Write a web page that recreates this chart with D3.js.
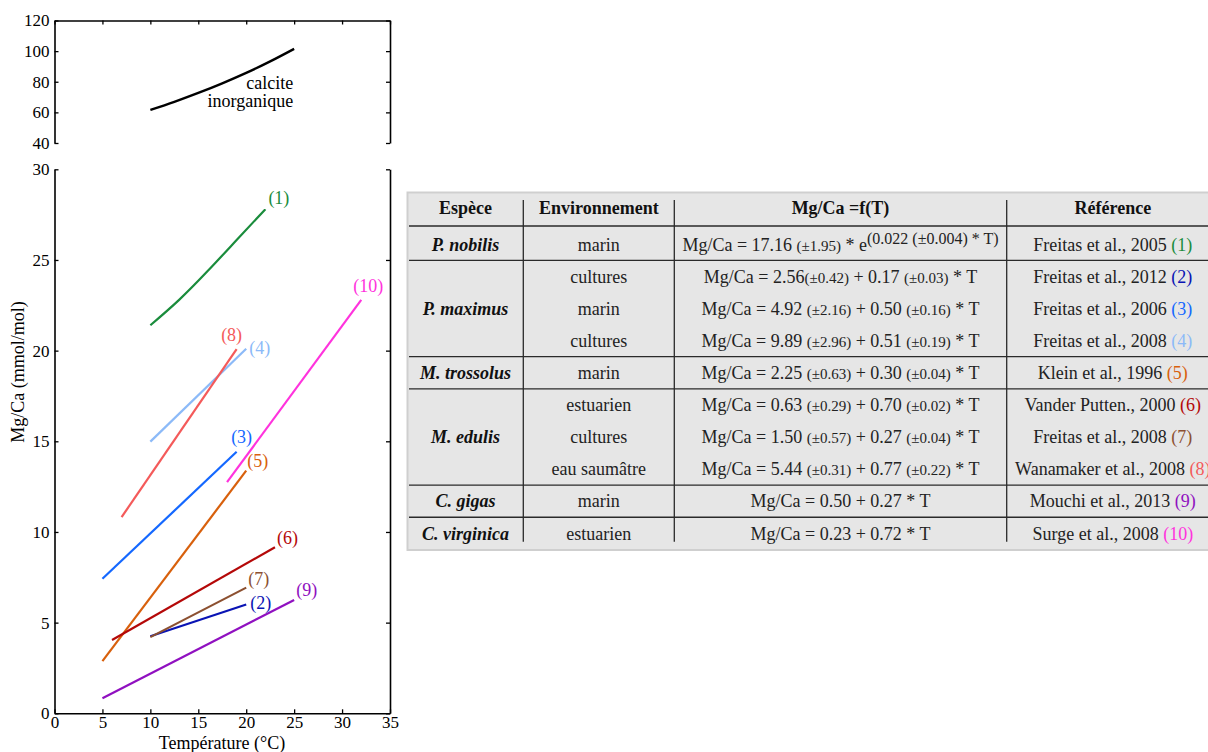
<!DOCTYPE html>
<html><head><meta charset="utf-8">
<script src="https://cdn.jsdelivr.net/npm/d3@7"></script>
<style>
html,body{margin:0;padding:0;background:#fff;}
svg{display:block;font-family:"Liberation Serif","DejaVu Serif",serif;}
</style></head>
<body><svg id="c" width="1208" height="752"></svg>
<script>
// ---------- DATA ----------
const xTicks = [0,5,10,15,20,25,30,35];
const topYTicks = [40,60,80,100,120];
const botYTicks = [0,5,10,15,20,25,30];

const calciteT = [10,12.5,15,17.5,20,22.5,25];
const calciteV = [61.6,66.9,72.7,79.0,85.8,93.3,101.5];

const seriesNames = ["(1)","(2)","(3)","(4)","(5)","(6)","(7)","(8)","(9)","(10)"];
const seriesT = [[10,13,16,19,22],[10,20],[5,19],[10,20],[5,20],[6,23],[10,20],[7,19],[5,25],[18,32]];
const seriesV = [[21.4,22.8,24.4,26.1,27.8],[4.25,6.0],[7.42,14.42],[14.98,20.1],[2.88,13.38],[4.04,9.16],[4.2,6.93],[10.82,20.08],[0.83,6.25],[12.75,22.8]];
const seriesColors = ["#1a8c3c","#0a14b4","#1468ff","#8cbaf8","#d8600c","#b40808","#8c5030","#f45a5a","#9010c0","#ff33dd"];

const headers = ["Espèce","Environnement","Mg/Ca =f(T)","Référence"];
const speciesNames = ["P. nobilis","P. maximus","M. trossolus","M. edulis","C. gigas","C. virginica"];
const speciesRows = [1,3,1,3,1,1];
const environments = ["marin","cultures","marin","cultures","marin","estuarien","cultures","eau saumâtre","marin","estuarien"];
const equations = [
  "Mg/Ca = 17.16 [(±1.95)] * e^(0.022 (±0.004) * T)",
  "Mg/Ca = 2.56[(±0.42)] + 0.17 [(±0.03)] * T",
  "Mg/Ca = 4.92 [(±2.16)] + 0.50 [(±0.16)] * T",
  "Mg/Ca = 9.89 [(±2.96)] + 0.51 [(±0.19)] * T",
  "Mg/Ca = 2.25 [(±0.63)] + 0.30 [(±0.04)] * T",
  "Mg/Ca = 0.63 [(±0.29)] + 0.70 [(±0.02)] * T",
  "Mg/Ca = 1.50 [(±0.57)] + 0.27 [(±0.04)] * T",
  "Mg/Ca = 5.44 [(±0.31)] + 0.77 [(±0.22)] * T",
  "Mg/Ca = 0.50 + 0.27 * T",
  "Mg/Ca = 0.23 + 0.72 * T"
];
const references = ["Freitas et al., 2005","Freitas et al., 2012","Freitas et al., 2006","Freitas et al., 2008","Klein et al., 1996","Vander Putten., 2000","Freitas et al., 2008","Wanamaker et al., 2008","Mouchi et al., 2013","Surge et al., 2008"];

// ---------- CHART ----------
const svg = d3.select("#c");
const FS = 18, TFS = 17;
const x = d3.scaleLinear().domain([0,35]).range([54.5,390]);
const yTop = d3.scaleLinear().domain([40,120]).range([143,20.5]);
const yBot = d3.scaleLinear().domain([0,30]).range([713.3,169.3]);

function styleAxis(g){
  g.selectAll("path.domain").attr("stroke","#000").attr("stroke-width",1.6);
  g.selectAll(".tick line").attr("stroke","#000").attr("stroke-width",1.3);
  g.selectAll("text").attr("font-family","Liberation Serif, serif").attr("font-size",TFS).attr("fill","#000");
}
// top panel
svg.append("g").attr("transform",`translate(${x(0)},0)`)
  .call(d3.axisLeft(yTop).tickValues(topYTicks).tickSizeInner(-4).tickSizeOuter(0).tickPadding(5)).call(styleAxis);
svg.append("g").attr("transform",`translate(${x(35)},0)`)
  .call(d3.axisRight(yTop).tickValues(topYTicks).tickSizeInner(-4).tickSizeOuter(0).tickFormat("")).call(styleAxis);
svg.append("g").attr("transform",`translate(0,${yTop(120)})`)
  .call(d3.axisTop(x).tickValues(xTicks).tickSizeInner(-4).tickSizeOuter(0).tickFormat("")).call(styleAxis);
// bottom panel
svg.append("g").attr("transform",`translate(${x(0)},0)`)
  .call(d3.axisLeft(yBot).tickValues(botYTicks).tickSizeInner(-4).tickSizeOuter(0).tickPadding(5)).call(styleAxis);
svg.append("g").attr("transform",`translate(${x(35)},0)`)
  .call(d3.axisRight(yBot).tickValues(botYTicks).tickSizeInner(-4).tickSizeOuter(0).tickFormat("")).call(styleAxis);
svg.append("g").attr("transform",`translate(0,${yBot(0)})`)
  .call(d3.axisBottom(x).tickValues(xTicks).tickSizeInner(-4).tickSizeOuter(0).tickPadding(3)).call(styleAxis);

// calcite curve
const calcData = calciteT.map((t,i)=>[t,calciteV[i]]);
svg.append("path").datum(calcData)
  .attr("d", d3.line().x(d=>x(d[0])).y(d=>yTop(d[1])).curve(d3.curveNatural))
  .attr("fill","none").attr("stroke","#000").attr("stroke-width",2.4);
svg.append("text").attr("x",x(25)-1).attr("y",89).attr("text-anchor","end")
  .attr("font-size",FS).text("calcite");
svg.append("text").attr("x",x(25)-1).attr("y",107).attr("text-anchor","end")
  .attr("font-size",FS).text("inorganique");

// series lines
const line = d3.line().x(d=>x(d[0])).y(d=>yBot(d[1])).curve(d3.curveNatural);
const labelOffsets = [[3,-5,"start"],[4,4,"start"],[5,-9,"middle"],[3,5,"start"],[1,-4,"start"],[2,-3,"start"],[2,-3,"start"],[-5,-8,"middle"],[2,-4,"start"],[7,-8,"middle"]];
seriesNames.forEach((name,i)=>{
  const pts = seriesT[i].map((t,j)=>[t,seriesV[i][j]]);
  svg.append("path").datum(pts).attr("d",line)
    .attr("fill","none").attr("stroke",seriesColors[i]).attr("stroke-width",2.2);
  const last = pts[pts.length-1];
  const o = labelOffsets[i];
  svg.append("text").attr("x",x(last[0])+o[0]).attr("y",yBot(last[1])+o[1])
    .attr("text-anchor",o[2]).attr("fill",seriesColors[i]).attr("font-size",FS).text(name);
});

// axis titles
svg.append("text").attr("x",222).attr("y",748.5).attr("text-anchor","middle").attr("font-size",FS).text("Température (°C)");
svg.append("text").attr("transform","translate(24,372) rotate(-90)").attr("text-anchor","middle").attr("font-size",FS).text("Mg/Ca (mmol/mol)");

// ---------- TABLE ----------
const tbl = svg.append("g");
const colX = [407.7,523.3,674.3,1006.7,1219];
const colC = colX.slice(0,4).map((v,i)=>(v+colX[i+1])/2);
const rowY = d3.scalePoint().domain(d3.range(environments.length)).range([244.3,533.3]);
const headerY = 207.7;
tbl.append("rect").attr("x",407.5).attr("y",192.5).attr("width",820).attr("height",357.5)
  .attr("fill","#e6e6e6").attr("stroke","#cfcfcf").attr("stroke-width",2);
// horizontal separators
const sepY = [(headerY+rowY(0))/2];
let acc = 0;
speciesRows.forEach((n,k)=>{ acc+=n; if(k<speciesRows.length-1) sepY.push((rowY(acc-1)+rowY(acc))/2); });
tbl.selectAll("line.h").data(sepY).join("line").attr("x1",409).attr("x2",1208)
  .attr("y1",d=>d).attr("y2",d=>d).attr("stroke","#2a2a2a").attr("stroke-width",1.3);
tbl.selectAll("line.v").data(colX.slice(1,4)).join("line").attr("y1",200).attr("y2",541.7)
  .attr("x1",d=>d).attr("x2",d=>d).attr("stroke","#2a2a2a").attr("stroke-width",1.3);
// headers
tbl.selectAll("text.hd").data(headers).join("text").attr("x",(d,i)=>colC[i]).attr("y",headerY)
  .attr("dy","0.35em").attr("text-anchor","middle").attr("font-weight","bold").attr("font-size",FS).attr("fill","#111").text(d=>d);
// species
acc = 0;
speciesNames.forEach((s,k)=>{
  const a = acc, b = acc+speciesRows[k]-1; acc += speciesRows[k];
  tbl.append("text").attr("x",colC[0]).attr("y",(rowY(a)+rowY(b))/2).attr("dy","0.35em")
    .attr("text-anchor","middle").attr("font-weight","bold").attr("font-style","italic")
    .attr("font-size",FS).attr("fill","#111").text(s);
});
// environments
tbl.selectAll("text.env").data(environments).join("text").attr("x",colC[1]).attr("y",(d,i)=>rowY(i))
  .attr("dy","0.35em").attr("text-anchor","middle").attr("font-size",FS).attr("fill","#222").text(d=>d);
// equations
equations.forEach((eq,i)=>{
  const t = tbl.append("text").attr("x",colC[2]).attr("y",rowY(i)).attr("dy","0.35em")
    .attr("text-anchor","middle").attr("font-size",FS).attr("fill","#222");
  const parts = eq.split("^");
  const addSegs = (str, sup) => {
    str.split(/(\[[^\]]*\])/).filter(s=>s.length).forEach(seg=>{
      const small = seg.startsWith("[");
      const ts = t.append("tspan").text(small ? seg.slice(1,-1) : seg);
      if(small) ts.attr("font-size",FS-3);
      if(sup) ts.attr("baseline-shift","7").attr("font-size",FS-2);
    });
  };
  addSegs(parts[0], false);
  if(parts[1]) addSegs(parts[1], true);
});
// references
references.forEach((r,i)=>{
  const t = tbl.append("text").attr("x",colC[3]).attr("y",rowY(i)).attr("dy","0.35em")
    .attr("text-anchor","middle").attr("font-size",FS).attr("fill","#222");
  t.append("tspan").text(r+" ");
  t.append("tspan").attr("fill",seriesColors[i]).text(seriesNames[i]);
});
</script></body></html>
